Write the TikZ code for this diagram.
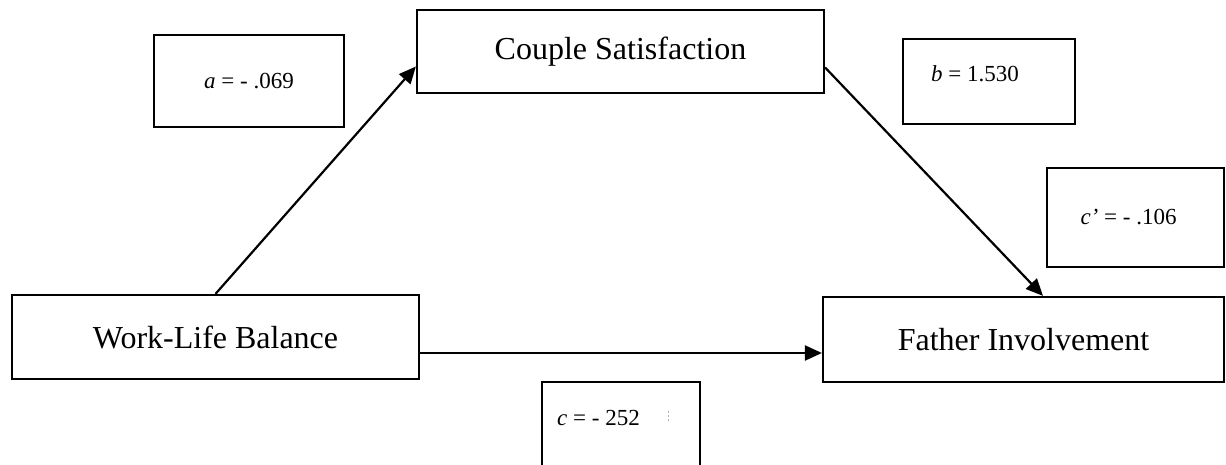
\documentclass[tikz,border=0pt]{standalone}
\usepackage{fontspec}
\setmainfont{Liberation Serif}
\usetikzlibrary{arrows.meta}
\begin{document}
\begin{tikzpicture}[x=1pt,y=-1pt,
  varbox/.style={draw, line width=2.2pt, inner sep=0pt, font=\fontsize{32}{38}\selectfont},
  coefbox/.style={draw, line width=2.2pt, inner sep=0pt},
  coef/.style={inner sep=0pt, font=\fontsize{23}{27}\selectfont},
  arr/.style={line width=2.2pt, -{Triangle[length=17pt,width=15pt]}}]
\clip (0,0) rectangle (1226,465);
% variable boxes
\node[varbox, minimum width=407pt, minimum height=84pt] (wlb) at (215.5,337) {Work-Life Balance};
\node[varbox, minimum width=407pt, minimum height=83pt] (cs) at (620.5,51.5) {Couple Satisfaction};
\node[varbox, minimum width=401pt, minimum height=85pt] (fi) at (1023.5,339.5) {Father Involvement};
% coefficient boxes
\node[coefbox, coef, minimum width=190pt, minimum height=92pt] (abox) at (249,81) {\textit{a} = - .069};
\node[coefbox, minimum width=172pt, minimum height=85pt] (bbox) at (989,81.5) {};
\node[coef, anchor=base] (blab) at (975,82) {\textit{b} = 1.530};
\node[coefbox, minimum width=177pt, minimum height=99pt] (cpbox) at (1135.5,217.5) {};
\node[coef, anchor=base] (cplab) at (1128.5,225) {\textit{c’} = - .106};
\node[coefbox, minimum width=158pt, minimum height=120pt] (cbox) at (621,442) {};
\node[coef, anchor=base] (clab) at (598.5,425) {\textit{c} = - 252};
\draw[gray!60, line width=0.8pt, dash pattern=on 2pt off 2pt] (668,411) -- (668,421);
% connectors
\draw[arr] (wlb.north) -- ([yshift=-15pt]cs.west);
\draw[arr] ([yshift=-16pt]cs.east) -- ([xshift=19.5pt]fi.north);
\draw[arr] ([yshift=-16pt]wlb.east) coordinate (h) -- (h -| fi.west);
\end{tikzpicture}
\end{document}
